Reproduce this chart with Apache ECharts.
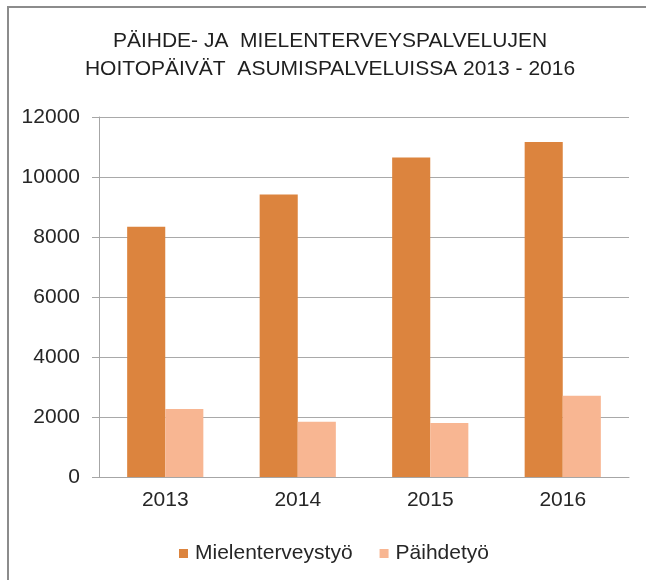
<!DOCTYPE html>
<html>
<head>
<meta charset="utf-8">
<title>Päihde- ja mielenterveyspalvelujen hoitopäivät</title>
<script src="https://cdn.jsdelivr.net/npm/echarts@6/dist/echarts.min.js"></script>
<style>
    html, body {
        margin: 0;
        padding: 0;
        background: #ffffff;
    }

    #chart {
        width: 646px;
        height: 580px;
    }
</style>
</head>
<body>
<div id="chart"></div>
<script>
// data
const years = ['2013', '2014', '2015', '2016'];
const mielenterveystyo = [8340, 9420, 10650, 11170];
const paihdetyo = [2270, 1840, 1800, 2710];
const yTicks = [0, 2000, 4000, 6000, 8000, 10000, 12000];

const font = 'Liberation Sans';
const myChart = echarts.init(document.getElementById('chart'));
myChart.setOption({
    animation: false,
    title: {
        text: 'PÄIHDE- JA  MIELENTERVEYSPALVELUJEN\nHOITOPÄIVÄT  ASUMISPALVELUISSA 2013 - 2016',
        left: 325,
        textAlign: 'center',
        top: 22,
        textStyle: {
            fontFamily: font,
            fontSize: 21,
            fontWeight: 'normal',
            lineHeight: 28,
            color: '#1f1f1f'
        }
    },
    graphic: [
        {
            type: 'line',
            shape: { x1: 8, y1: 7, x2: 8, y2: 580 },
            style: { stroke: '#8c8c8c', lineWidth: 2 }
        },
        {
            type: 'line',
            shape: { x1: 7, y1: 7, x2: 646, y2: 7 },
            style: { stroke: '#8c8c8c', lineWidth: 2 }
        }
    ],
    legend: {
        data: ['Mielenterveystyö', 'Päihdetyö'],
        left: 174,
        top: 538,
        itemWidth: 9,
        itemHeight: 9,
        itemGap: 27,
        icon: 'rect',
        textStyle: {
            fontFamily: font,
            fontSize: 21,
            color: '#262626',
            padding: [0, 0, 0, 2]
        }
    },
    grid: {
        left: 99,
        right: 17,
        top: 117,
        bottom: 103,
        containLabel: false
    },
    xAxis: {
        type: 'category',
        data: years,
        axisTick: { show: false },
        axisLine: { lineStyle: { color: '#a6a6a6', width: 1 } },
        axisLabel: {
            margin: 13,
            fontFamily: font,
            fontSize: 21,
            color: '#262626'
        }
    },
    yAxis: {
        type: 'value',
        min: yTicks[0],
        max: yTicks[yTicks.length - 1],
        interval: yTicks[1] - yTicks[0],
        axisLine: { show: true, lineStyle: { color: '#a6a6a6', width: 1 } },
        axisTick: { show: true, length: 7, lineStyle: { color: '#a6a6a6' } },
        splitLine: { lineStyle: { color: '#a9a9a9', width: 1 } },
        axisLabel: {
            margin: 19,
            fontFamily: font,
            fontSize: 21,
            color: '#262626',
            formatter: function (v) {
                return String(v);
            }
        }
    },
    series: [
        {
            name: 'Mielenterveystyö',
            type: 'bar',
            data: mielenterveystyo,
            barGap: '0%',
            barCategoryGap: '42.5%',
            itemStyle: { color: '#dc843e' }
        },
        {
            name: 'Päihdetyö',
            type: 'bar',
            data: paihdetyo,
            itemStyle: { color: '#f8b692' }
        }
    ]
});
</script>
</body>
</html>
